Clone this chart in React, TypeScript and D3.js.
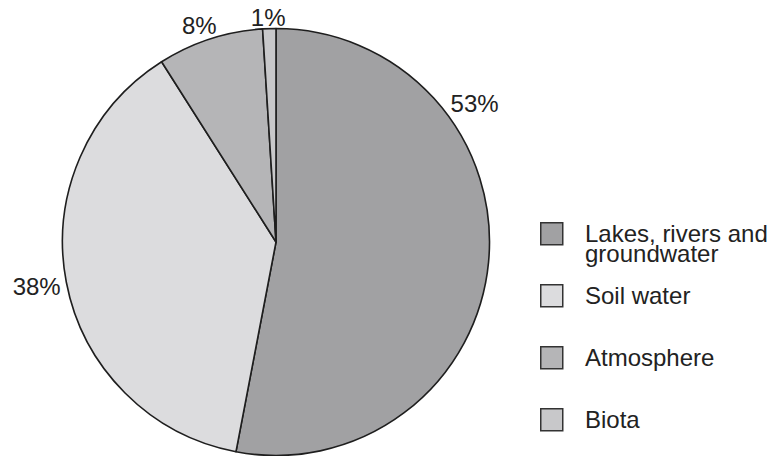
import React from "react";
import * as d3 from "d3";

// Share of freshwater outside ice and permafrost (percent)
const categories = ["Lakes, rivers and groundwater", "Soil water", "Atmosphere", "Biota"];
const shares = [53, 38, 8, 1];
const fills = ["#a1a1a3", "#dcdcde", "#b5b5b7", "#c8c8ca"];
const legendLines = [["Lakes, rivers and", "groundwater"], ["Soil water"], ["Atmosphere"], ["Biota"]];
// direction (degrees clockwise from 12 o'clock) of each percentage label
const labelDegrees = [55, 259.5, 340.5, 358];

const W = 769;
const H = 456;
const CX = 276;
const CY = 242;
const R = 213.5;
const FONT = "'Liberation Sans', Arial, Helvetica, sans-serif";
const FS = 24;

export default function App() {
  const pie = d3.pie<number>().sort(null).value((d) => d);
  const arcs = pie(shares);
  const arcGen = d3.arc<d3.PieArcDatum<number>>().innerRadius(0).outerRadius(R);

  return (
    <svg
      width={W}
      height={H}
      style={{ position: "absolute", left: 0, top: 0, background: "#fff" }}
    >
      <g transform={`translate(${CX},${CY})`}>
        {arcs.map((a, i) => (
          <path
            key={i}
            d={arcGen(a) || ""}
            fill={fills[i]}
            stroke="#1e1e1e"
            strokeWidth={1.6}
            strokeLinejoin="round"
          />
        ))}
        {arcs.map((a, i) => {
          const ang = (labelDegrees[i] * Math.PI) / 180;
          const txt = `${shares[i]}%`;
          const w = txt.length * 0.55 * FS + (txt.length > 2 ? 2 : 0);
          const h = 0.72 * FS;
          const s = Math.abs(Math.sin(ang));
          const gap = 2 + 6 * s;
          const r = R + gap + s * (w / 2) + Math.abs(Math.cos(ang)) * (h / 2);
          const x = Math.sin(ang) * r;
          const y = -Math.cos(ang) * r;
          return (
            <text
              key={i}
              x={x}
              y={y + h / 2}
              textAnchor="middle"
              fontFamily={FONT}
              fontSize={FS}
              fill="#222"
            >
              {txt}
            </text>
          );
        })}
      </g>
      <g transform="translate(540,222)">
        {categories.map((c, i) => {
          const y0 = i * 62;
          return (
            <g key={c} transform={`translate(0,${y0})`}>
              <rect
                x={0.75}
                y={0.75}
                width={22}
                height={22}
                fill={fills[i]}
                stroke="#333"
                strokeWidth={1.5}
              />
              <text fontFamily={FONT} fontSize={FS} fill="#222">
                {legendLines[i].map((line, j) => (
                  <tspan key={j} x={45} y={20 + j * 20}>
                    {line}
                  </tspan>
                ))}
              </text>
            </g>
          );
        })}
      </g>
    </svg>
  );
}
